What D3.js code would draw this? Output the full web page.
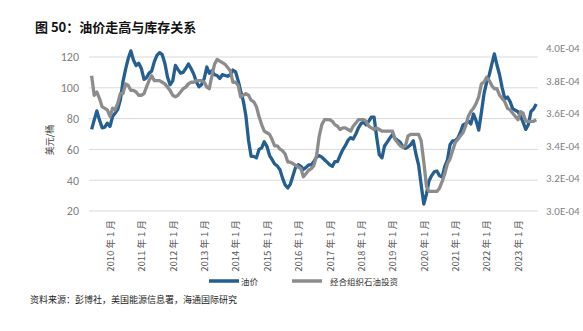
<!DOCTYPE html>
<html>
<head>
<meta charset="utf-8">
<script src="https://cdn.jsdelivr.net/npm/d3@7/dist/d3.min.js"></script>
<style>
  html, body { margin: 0; padding: 0; background: #fff; }
  svg { display: block; }
  text { font-family: "Noto Sans CJK SC", "Noto Sans", sans-serif; }
</style>
</head>
<body>
<svg id="chart" width="583" height="331"></svg>
<script>
// Monthly series, first month = 2009-06
const startYear = 2009, startMonth = 5; // June (0-based)

// 油价 (美元/桶)
const oilPrice = [
  73, 79, 85, 79, 74, 74.5, 77,                                        // 2009 Jun-Dec
  75, 81.5, 83.5, 86, 92, 104, 112, 119, 124, 118, 114.5, 116,         // 2010
  112.5, 105.5, 106.5, 109.5, 110.8, 117, 121, 122.8, 121.5, 116, 107, 102, // 2011
  104.5, 114.5, 112, 109.5, 110, 112.5, 115.5, 112.5, 109, 104, 100.7, 102, // 2012
  106, 113.5, 109.5, 111, 108.5, 108, 106, 108.5, 108, 107.5, 108.5, 111.5, // 2013
  110.4, 104.5, 98, 91.5, 82, 66, 55.5, 55.5, 54.5, 60, 61, 65,        // 2014
  62, 56, 53.5, 50.5, 49.3, 47, 41.5, 37, 35, 37.5, 43, 48.5,          // 2015
  50, 49, 47, 48.3, 50, 50, 52.2, 55, 56, 55, 53.3, 51.7,              // 2016
  50, 49, 52, 52, 56, 59.7, 62.4, 65.8, 67.6, 66.8, 70, 74,            // 2017
  76.8, 77.7, 76, 78.3, 81, 81, 68, 56.5, 54.5, 62.2, 64.7, 67.3,      // 2018
  69.7, 67, 66, 64.6, 62, 60.7, 61.5, 63, 65.6, 57, 50, 37,            // 2019
  24.5, 31, 39.5, 43, 45.4, 46, 43, 42, 49, 53, 63, 65.5,              // 2020
  65.7, 67.5, 71, 75.8, 76.7, 78.5, 76.5, 83, 78.5, 72.5, 84, 96,      // 2021
  103.5, 108.5, 115, 122, 114.8, 108.3, 100, 92.8, 94, 91, 86.3, 85.4, // 2022
  84.5, 81.3, 77.7, 73, 76, 84.6, 86.2, 89.5                           // 2023 Jan-Aug
];

// 经合组织石油投资 (×1E-04)
const oecdInvest = [
  3.83, 3.71, 3.73, 3.69, 3.64, 3.63, 3.62,                            // 2009 Jun-Dec
  3.58, 3.63, 3.62, 3.66, 3.72, 3.72, 3.78, 3.77, 3.74, 3.74, 3.73, 3.71, // 2010
  3.71, 3.72, 3.76, 3.80, 3.83, 3.80, 3.80, 3.80, 3.79, 3.78, 3.76, 3.74, // 2011
  3.71, 3.70, 3.71, 3.73, 3.75, 3.76, 3.78, 3.79, 3.79, 3.80, 3.80, 3.80, // 2012
  3.79, 3.76, 3.75, 3.83, 3.90, 3.93, 3.92, 3.91, 3.90, 3.88, 3.86, 3.79, // 2013
  3.79, 3.77, 3.70, 3.71, 3.72, 3.71, 3.68, 3.67, 3.64, 3.58, 3.53, 3.49, // 2014
  3.48, 3.47, 3.44, 3.40, 3.40, 3.38, 3.37, 3.35, 3.30, 3.30, 3.29, 3.28, // 2015
  3.27, 3.26, 3.21, 3.23, 3.25, 3.26, 3.28, 3.34, 3.46, 3.53, 3.56, 3.56, // 2016
  3.56, 3.55, 3.53, 3.52, 3.50, 3.51, 3.51, 3.50, 3.49, 3.52, 3.54, 3.56, // 2017
  3.56, 3.56, 3.55, 3.52, 3.51, 3.50, 3.51, 3.50, 3.49, 3.49, 3.49, 3.49, // 2018
  3.49, 3.44, 3.42, 3.40, 3.39, 3.40, 3.46, 3.47, 3.47, 3.47, 3.47, 3.43, // 2019
  3.30, 3.15, 3.12, 3.12, 3.12, 3.12, 3.14, 3.18, 3.23, 3.29, 3.32, 3.37, // 2020
  3.42, 3.44, 3.46, 3.48, 3.52, 3.58, 3.61, 3.63, 3.66, 3.70, 3.78, 3.79, // 2021
  3.82, 3.80, 3.77, 3.75, 3.75, 3.71, 3.69, 3.67, 3.63, 3.62, 3.60, 3.58, // 2022
  3.56, 3.61, 3.60, 3.55, 3.55, 3.55, 3.55, 3.56                        // 2023 Jan-Aug
];

const tickYears = [2010, 2011, 2012, 2013, 2014, 2015, 2016, 2017, 2018, 2019, 2020, 2021, 2022, 2023];
const leftTicks = [20, 40, 60, 80, 100, 120];
const rightTicks = [3.0, 3.2, 3.4, 3.6, 3.8, 4.0];

const titleText = "图 50：油价走高与库存关系";
const yTitle = "美元/桶";
const seriesNames = ["油价", "经合组织石油投资"];
const sourceText = "资料来源：彭博社，美国能源信息署，海通国际研究";

const svg = d3.select("#chart");
const start = new Date(startYear, startMonth, 1);
const dates = oilPrice.map((_, i) => d3.timeMonth.offset(start, i));

const plotL = 89, plotR = 538;
const x = d3.scaleTime()
  .domain([new Date(2010, 0, 1), new Date(2023, 0, 1)])
  .range([110, 518]);
const yL = d3.scaleLinear().domain([20, 120]).range([211, 57]);
const yR = d3.scaleLinear().domain([3.0, 4.0]).range([211, 48]);

// title
svg.append("text").attr("x", 35).attr("y", 32)
  .attr("font-size", 13).attr("font-weight", "bold").attr("fill", "#111")
  .text(titleText);

// gridlines
svg.append("g").selectAll("line").data(leftTicks).join("line")
  .attr("x1", plotL).attr("x2", plotR)
  .attr("y1", d => yL(d)).attr("y2", d => yL(d))
  .attr("stroke", "#d9d9d9").attr("stroke-width", 1);

// left axis
const gL = svg.append("g").attr("transform", `translate(${plotL},0)`)
  .call(d3.axisLeft(yL).tickValues(leftTicks).tickSize(0).tickPadding(10));
gL.select(".domain").remove();
gL.selectAll("text").attr("font-size", 12).attr("fill", "#7f7f7f")
  .style("font-family", "Calibri, Carlito, 'Open Sans', sans-serif");

// right axis
const gR = svg.append("g").attr("transform", `translate(${plotR + 8},0)`)
  .call(d3.axisRight(yR).tickValues(rightTicks).tickSize(0).tickPadding(0)
    .tickFormat(d => d.toFixed(1) + "E-04"));
gR.select(".domain").remove();
gR.selectAll("text").attr("font-size", 11).attr("fill", "#7f7f7f")
  .style("font-family", "Calibri, Carlito, 'Open Sans', sans-serif");

// bottom axis
const gB = svg.append("g").attr("transform", `translate(0,${yL(20)})`)
  .call(d3.axisBottom(x).tickValues(tickYears.map(yy => new Date(yy, 0, 1)))
    .tickSize(0).tickFormat(d => d.getFullYear() + " 年 1 月"));
gB.select(".domain").remove();
gB.selectAll("text")
  .attr("transform", "rotate(-90)")
  .attr("x", -9).attr("y", 0).attr("dy", "0.35em")
  .style("text-anchor", "end")
  .attr("font-size", 9.5).attr("fill", "#595959");

// y title
svg.append("text")
  .attr("transform", `translate(53,140) rotate(-90)`)
  .attr("text-anchor", "middle").attr("font-size", 9).attr("fill", "#404040")
  .text(yTitle);

// lines
const lineOil = d3.line().x((d, i) => x(dates[i])).y(d => yL(d));
const lineInv = d3.line().x((d, i) => x(dates[i])).y(d => yR(d));

svg.append("path").datum(oilPrice)
  .attr("d", lineOil).attr("fill", "none")
  .attr("stroke", "#255e91").attr("stroke-width", 3.3)
  .attr("stroke-linejoin", "round");
svg.append("path").datum(oecdInvest)
  .attr("d", lineInv).attr("fill", "none")
  .attr("stroke", "#8c8c8c").attr("stroke-width", 3.3)
  .attr("stroke-linejoin", "round");

// legend
const legend = [
  { name: seriesNames[0], color: "#255e91", x1: 209, x2: 239, tx: 241 },
  { name: seriesNames[1], color: "#8c8c8c", x1: 292, x2: 322, tx: 330 }
];
const lg = svg.append("g");
legend.forEach(l => {
  lg.append("line").attr("x1", l.x1).attr("x2", l.x2).attr("y1", 281).attr("y2", 281)
    .attr("stroke", l.color).attr("stroke-width", 3.5);
  lg.append("text").attr("x", l.tx).attr("y", 284.5)
    .attr("font-size", 8.5).attr("fill", "#333").text(l.name);
});

// source
svg.append("text").attr("x", 30).attr("y", 303)
  .attr("font-size", 9).attr("fill", "#222").text(sourceText);
</script>
</body>
</html>
